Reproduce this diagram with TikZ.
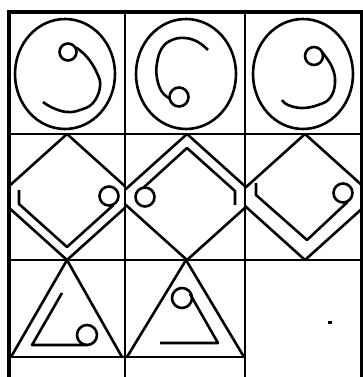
\documentclass[tikz,border=0pt]{standalone}
\tikzstyle{grid line}=[line width=2.3pt]
\tikzstyle{frame line}=[line width=3.6pt]
\tikzstyle{figure line}=[line width=2.6pt, line join=round]

\begin{document}
\begin{tikzpicture}[x=1pt, y=-1pt]
	\useasboundingbox (0,0) rectangle (363,377);

	% Grid of the puzzle
	\draw[frame line] (9,377) -- (9,12) -- (361.5,12) -- (361.5,377);
	\foreach \x in {125, 245}{ \draw[grid line] (\x,12) -- (\x,377); }
	\foreach \y in {134, 260}{ \draw[grid line] (9,\y) -- (362,\y); }
	\draw[grid line] (9,357) -- (245,357);

	% Row 1: circles with a hook
	\foreach \cx in {65, 186, 303}{ \draw[figure line] (\cx,74) ellipse [x radius=50pt, y radius=55pt]; }

	\draw[figure line] (68,52) circle [radius=8.5pt];
	\draw[figure line] plot[smooth, tension=0.7] coordinates {(76,47.5) (87,57) (97,73) (100,87) (93,103) (80,110) (67,112) (53,108) (43,102)};

	\draw[figure line] (179,97) circle [radius=9.5pt];
	\draw[figure line] plot[smooth, tension=0.7] coordinates {(208,50) (198,42) (185,38) (172,40) (162,48) (157,63) (157,78) (162,92) (170.5,99)};

	\draw[figure line] (314,56) circle [radius=9pt];
	\draw[figure line] plot[smooth, tension=0.7] coordinates {(322,52) (332,67) (335,83) (330,98) (318,105) (302,108) (288,105) (282,100)};

	% Row 2: diamonds
	\foreach \cx/\xl/\xr in {67/9/125, 187/125/245, 305/245/362}{
		\begin{scope}
			\clip (\xl,134) rectangle (\xr,260);
			\draw[figure line] (\cx-70,197) -- (\cx,134) -- (\cx+70,197) -- (\cx,260) -- cycle;
		\end{scope}
	}

	\draw[figure line] (19,190) -- (19,204) -- (67,247) -- (113.5,205);
	\draw[figure line] (109,196) circle [radius=9.5pt];

	\draw[figure line] (143.5,187.6) -- (187,148) -- (235,191) -- (235,205);
	\draw[figure line] (145,197) circle [radius=9.5pt];

	\draw[figure line] (256,183) -- (256,195) -- (307,240) -- (347.5,202);
	\draw[figure line] (343,193) circle [radius=9.5pt];

	% Row 3: triangles
	\draw[figure line] (11,357) -- (67,260) -- (122,357);
	\draw[figure line] (62,293) -- (32,345) -- (87,345);
	\draw[figure line] (87,335) circle [radius=10pt];

	\draw[figure line] (127,357) -- (186,260) -- (244,357);
	\draw[figure line] (190,294) -- (218,343) -- (160,343);
	\draw[figure line] (182,298) circle [radius=10pt];

	\fill (328,321) rectangle (332,323.5);
\end{tikzpicture}
\end{document}
